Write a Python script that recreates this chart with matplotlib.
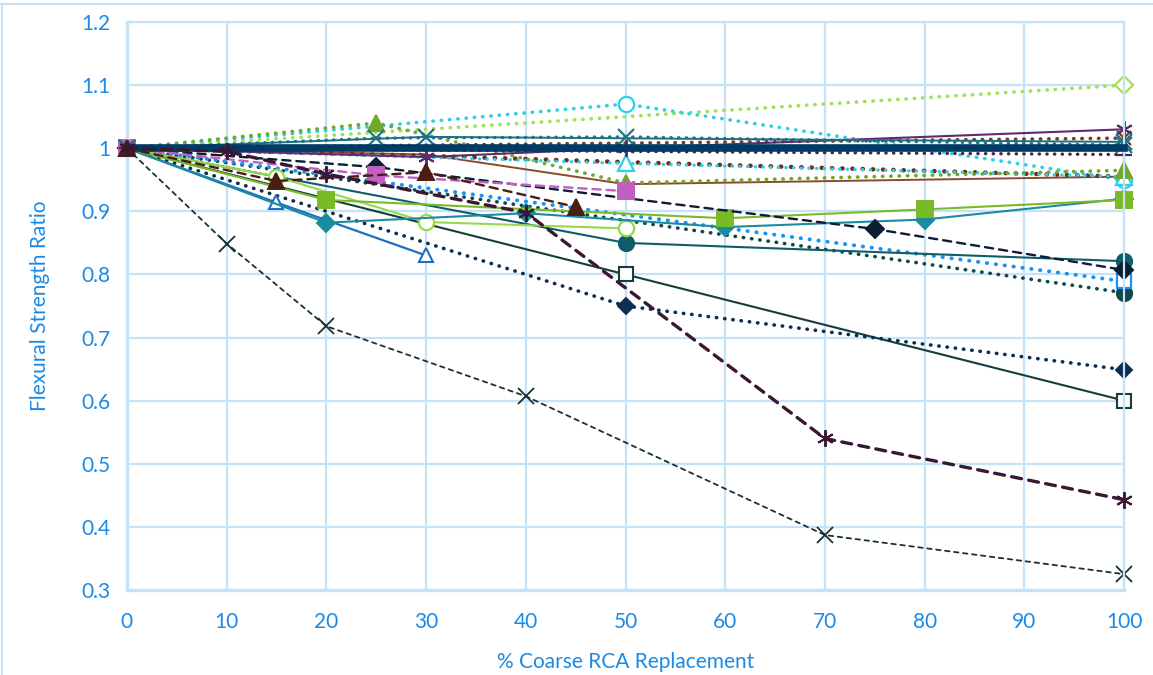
import matplotlib
matplotlib.use("Agg")
import matplotlib.pyplot as plt
from matplotlib.lines import Line2D

plt.rcParams['font.family'] = ['Lato', 'DejaVu Sans']

# --- series data (x = % coarse RCA, y = flexural strength ratio) ---
x_ltgreen_diamond = [0, 100]
y_ltgreen_diamond = [1.0, 1.10]

x_cyan_circle = [0, 50, 100]
y_cyan_circle = [1.0, 1.07, 0.95]

x_olive_triangle = [0, 25, 50, 100]
y_olive_triangle = [1.0, 1.04, 0.945, 0.965]

x_teal_x_solid = [0, 30, 100]
y_teal_x_solid = [1.0, 1.018, 1.01]

x_teal_x_dotted = [0, 25, 50, 100]
y_teal_x_dotted = [1.0, 1.016, 1.018, 1.005]

x_purple_star = [0, 30, 50, 100]
y_purple_star = [1.0, 0.986, 1.0, 1.03]

x_brown_dotted = [0, 100]
y_brown_dotted = [1.0, 1.016]

x_dkpurple_plus = [0, 100]
y_dkpurple_plus = [1.0, 0.99]

x_brown_solid = [0, 30, 50, 100]
y_brown_solid = [1.0, 0.99, 0.943, 0.955]

x_brown_dotted2 = [0, 30, 50, 100]
y_brown_dotted2 = [1.0, 0.988, 0.978, 0.955]

x_cyan_triangle = [0, 50, 100]
y_cyan_triangle = [1.0, 0.976, 0.955]

x_pink_square = [0, 25, 50]
y_pink_square = [1.0, 0.957, 0.932]

x_brown_triangle = [0, 15, 30, 45]
y_brown_triangle = [1.0, 0.948, 0.962, 0.907]

x_navy_diamond_dash = [0, 25, 75, 100]
y_navy_diamond_dash = [1.0, 0.97, 0.872, 0.807]

x_green_square = [0, 20, 60, 80, 100]
y_green_square = [1.0, 0.918, 0.889, 0.903, 0.918]

x_teal_diamond = [0, 20, 40, 60, 80, 100]
y_teal_diamond = [1.0, 0.882, 0.897, 0.875, 0.887, 0.92]

x_ltgreen_circle = [0, 15, 30, 50]
y_ltgreen_circle = [1.0, 0.955, 0.883, 0.873]

x_blue_triangle = [0, 15, 30]
y_blue_triangle = [1.0, 0.914, 0.83]

x_dkteal_circle = [0, 50, 100]
y_dkteal_circle = [1.0, 0.85, 0.821]

x_dkgreen_square = [0, 50, 100]
y_dkgreen_square = [1.0, 0.80, 0.60]

x_navy_diamond_dot = [0, 50, 100]
y_navy_diamond_dot = [1.0, 0.75, 0.649]

x_blue_square_dot = [0, 100]
y_blue_square_dot = [1.0, 0.789]

x_dkteal_circle_dot = [0, 100]
y_dkteal_circle_dot = [1.0, 0.771]

x_dark_x = [0, 10, 20, 40, 70, 100]
y_dark_x = [1.0, 0.849, 0.718, 0.607, 0.387, 0.325]

x_plum_star = [0, 10, 20, 40, 70, 100]
y_plum_star = [1.0, 0.995, 0.959, 0.898, 0.54, 0.443]

x_navy_thick = [0, 100]
y_navy_thick = [1.0, 1.0]

x_ticks = [0, 10, 20, 30, 40, 50, 60, 70, 80, 90, 100]
y_ticks = [0.3, 0.4, 0.5, 0.6, 0.7, 0.8, 0.9, 1.0, 1.1, 1.2]

DOT = (0, (0.1, 2.2))
DASH = (0, (3.5, 2.5))
FINEDASH = (0, (2.5, 2.5))
STAR = (6, 2, 0)

fig = plt.figure(figsize=(11.53, 6.75), dpi=100)
ax = fig.add_axes([0.110, 0.126, 0.865, 0.8414])


def draw(x, y, color, ls='-', lw=1.4, marker=None, ms=9, open_marker=False, mew=1.4, z=2):
    kw = dict(color=color, linestyle=ls, linewidth=lw, marker=marker, markersize=ms,
              markeredgewidth=mew, zorder=z, dash_capstyle='round', clip_on=False)
    if open_marker:
        kw['markerfacecolor'] = 'white'
    ax.plot(x, y, **kw)


draw(x_ltgreen_diamond, y_ltgreen_diamond, '#a3e05a', DOT, 2.6, 'D', 9, True, 1.6)
draw(x_cyan_circle, y_cyan_circle, '#2dd0e8', DOT, 2.6, 'o', 11, True, 1.6)
draw(x_dark_x, y_dark_x, '#17332f', FINEDASH, 1.3, 'x', 11, mew=1.3)
draw(x_dkgreen_square, y_dkgreen_square, '#133e3c', '-', 1.5, 's', 10, True, 1.5)
draw(x_navy_diamond_dot, y_navy_diamond_dot, '#0d2d52', DOT, 2.6, 'D', 8)
draw(x_dkteal_circle_dot, y_dkteal_circle_dot, '#0f4848', DOT, 2.6, 'o', 11)
draw(x_blue_square_dot, y_blue_square_dot, '#1a93f5', DOT, 2.8, 's', 10, True, 1.6)
draw(x_dkteal_circle, y_dkteal_circle, '#0f5c6b', '-', 1.5, 'o', 11)
draw(x_blue_triangle, y_blue_triangle, '#1f6fc0', '-', 1.6, '^', 10, True, 1.5)
draw(x_ltgreen_circle, y_ltgreen_circle, '#96d94a', '-', 1.5, 'o', 11, True, 1.6)
draw(x_teal_diamond, y_teal_diamond, '#1a8ca0', '-', 1.5, 'D', 9)
draw(x_green_square, y_green_square, '#7ab928', '-', 1.5, 's', 11)
draw(x_navy_diamond_dash, y_navy_diamond_dash, '#0b1e33', DASH, 1.7, 'D', 9)
draw(x_brown_solid, y_brown_solid, '#8b4a2b', '-', 1.4)
draw(x_brown_dotted2, y_brown_dotted2, '#6e2f1e', DOT, 3.2)
draw(x_cyan_triangle, y_cyan_triangle, '#2dd0e8', DOT, 2.4, '^', 11, True, 1.6)
draw(x_olive_triangle, y_olive_triangle, '#6fa82a', DOT, 2.6, '^', 11)
draw(x_pink_square, y_pink_square, '#c060c0', DASH, 1.7, 's', 11)
draw(x_dkpurple_plus, y_dkpurple_plus, '#4a2350', DOT, 2.4, '+', 11, mew=1.6)
draw(x_brown_dotted, y_brown_dotted, '#7b3a22', DOT, 2.6, 'x', 10, mew=1.6)
draw(x_purple_star, y_purple_star, '#5b2c6f', '-', 1.5, STAR, 12, mew=1.4)
draw(x_teal_x_dotted, y_teal_x_dotted, '#1c7a88', DOT, 2.4, 'x', 11, mew=1.6)
draw(x_teal_x_solid, y_teal_x_solid, '#1c6f80', '-', 1.4, 'x', 11, mew=1.6)
draw(x_navy_thick, y_navy_thick, '#003b66', '-', 5.5, z=3)
draw(x_brown_triangle, y_brown_triangle, '#4a1e12', DASH, 1.7, '^', 12, z=3)
draw(x_plum_star, y_plum_star, '#3a1733', (0, (3, 2.2)), 2.4, STAR, 12, mew=1.4, z=3)

grid_c = '#c6e2f7'
label_c = '#1a8ae6'
ax.set_xlim(0, 100)
ax.set_ylim(0.3, 1.2)
ax.set_xticks(x_ticks)
ax.set_yticks(y_ticks)
ax.set_yticklabels([f"{v:g}" for v in y_ticks])
ax.grid(True, color=grid_c, linewidth=1.6, zorder=0)
ax.set_axisbelow(True)
for s in ax.spines.values():
    s.set_color(grid_c)
    s.set_linewidth(1.6)
ax.spines['left'].set_linewidth(2.4)
ax.spines['bottom'].set_linewidth(2.4)
ax.tick_params(length=0, colors=label_c, labelsize=15, pad=12)
ax.tick_params(axis='x', pad=16)
ax.set_xlabel('% Coarse RCA Replacement', color=label_c, fontsize=15, labelpad=14)
ax.set_ylabel('Flexural Strength Ratio', color=label_c, fontsize=15, labelpad=22)

# outer chart border
fig.add_artist(Line2D([0.0, 1.0], [1 - 4 / 675, 1 - 4 / 675], color=grid_c, lw=1.5))
fig.add_artist(Line2D([0.002, 0.002], [0.0, 1 - 4 / 675], color=grid_c, lw=1.5))

fig.savefig('out.png', dpi=100)
